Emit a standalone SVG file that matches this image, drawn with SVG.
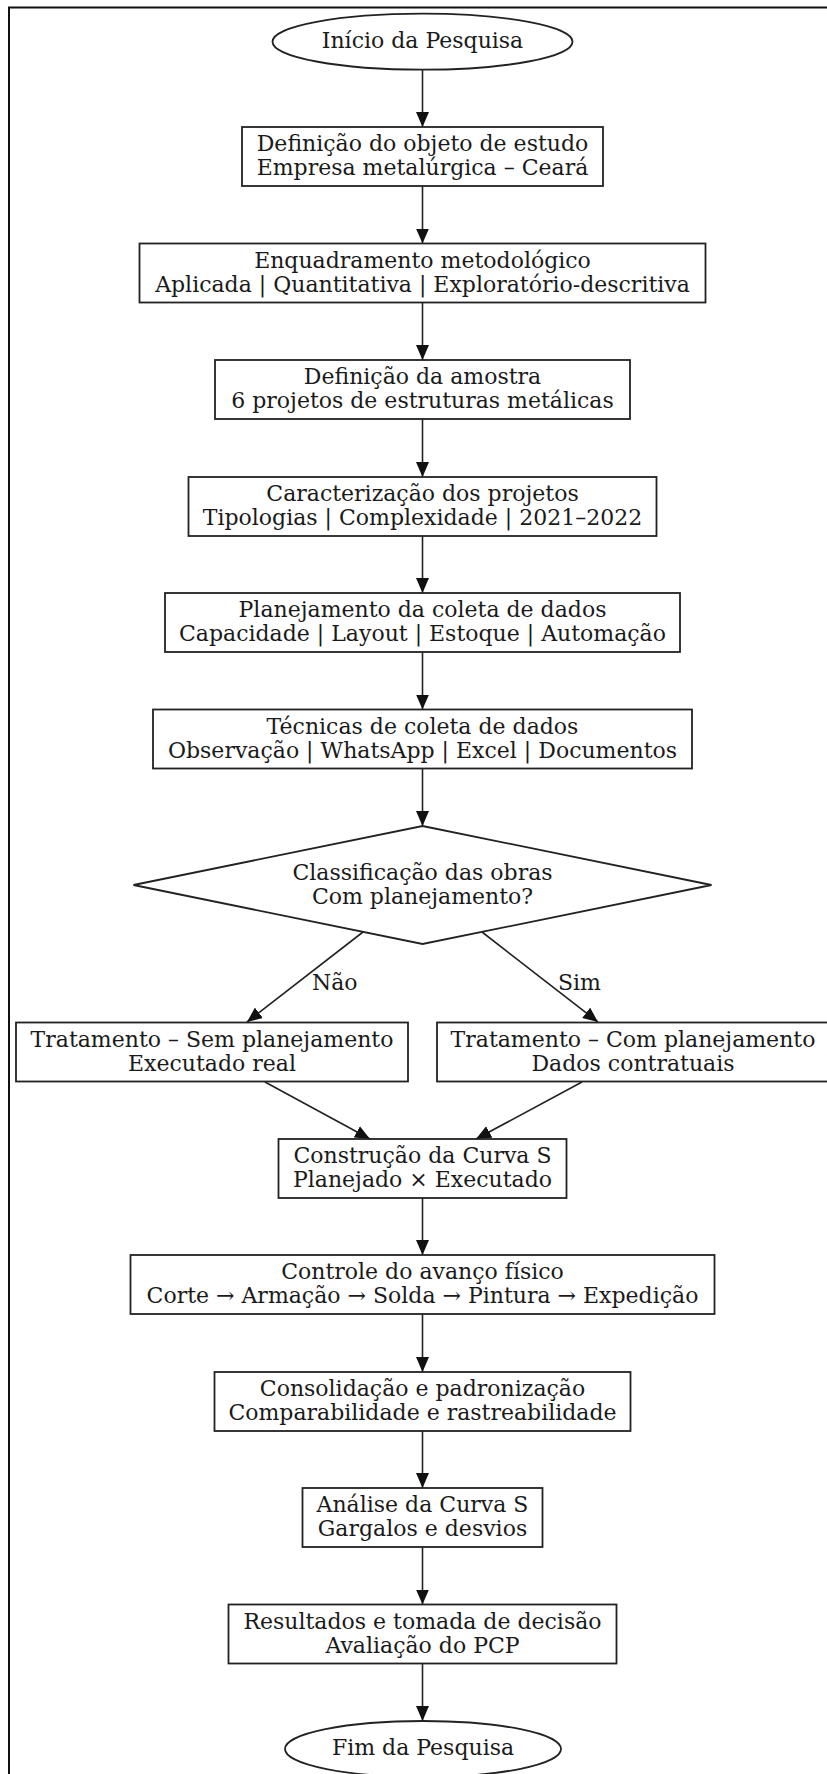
<svg xmlns="http://www.w3.org/2000/svg" width="827" height="1774" viewBox="0 0 827 1774">
  <style>
    .bg { fill: #ffffff; }
    .frame { fill: none; stroke: #111; stroke-width: 2; }
    .node { fill: #ffffff; stroke: #222; stroke-width: 1.8; }
    .edge { fill: none; stroke: #222; stroke-width: 1.6; }
    .lbl { font-family: "DejaVu Serif", "Liberation Serif", serif; font-size: 22px; fill: #1a1a1a; text-anchor: middle; }
    .elbl { font-family: "DejaVu Serif", "Liberation Serif", serif; font-size: 22px; fill: #1a1a1a; text-anchor: start; }
  </style>
  <defs>
    <marker id="arrow" markerUnits="userSpaceOnUse" markerWidth="15" markerHeight="13" refX="15" refY="6.5" orient="auto">
      <path d="M0,0 L15,6.5 L0,13 z" fill="#111"/>
    </marker>
  </defs>

  <rect class="bg" x="0" y="0" width="827" height="1774"/>
  <!-- outer border (continues past the right and bottom edges) -->
  <rect class="frame" x="9" y="7.5" width="830" height="1780"/>

  <!-- connectors -->
  <g id="edges">
    <line class="edge" x1="422.5" y1="69.7" x2="422.5" y2="127" marker-end="url(#arrow)"/>
    <line class="edge" x1="422.5" y1="186" x2="422.5" y2="243.5" marker-end="url(#arrow)"/>
    <line class="edge" x1="422.5" y1="302.5" x2="422.5" y2="360" marker-end="url(#arrow)"/>
    <line class="edge" x1="422.5" y1="419" x2="422.5" y2="477" marker-end="url(#arrow)"/>
    <line class="edge" x1="422.5" y1="536" x2="422.5" y2="593" marker-end="url(#arrow)"/>
    <line class="edge" x1="422.5" y1="652" x2="422.5" y2="709.5" marker-end="url(#arrow)"/>
    <line class="edge" x1="422.5" y1="768.5" x2="422.5" y2="826" marker-end="url(#arrow)"/>
    <line class="edge" x1="363" y1="932" x2="247" y2="1022" marker-end="url(#arrow)"/>
    <line class="edge" x1="482" y1="932" x2="598" y2="1022" marker-end="url(#arrow)"/>
    <line class="edge" x1="265" y1="1082" x2="370" y2="1139" marker-end="url(#arrow)"/>
    <line class="edge" x1="582" y1="1082" x2="476" y2="1139" marker-end="url(#arrow)"/>
    <line class="edge" x1="422.5" y1="1198" x2="422.5" y2="1255" marker-end="url(#arrow)"/>
    <line class="edge" x1="422.5" y1="1314" x2="422.5" y2="1372" marker-end="url(#arrow)"/>
    <line class="edge" x1="422.5" y1="1431" x2="422.5" y2="1488" marker-end="url(#arrow)"/>
    <line class="edge" x1="422.5" y1="1547" x2="422.5" y2="1604.5" marker-end="url(#arrow)"/>
    <line class="edge" x1="422.5" y1="1663.5" x2="422.5" y2="1721" marker-end="url(#arrow)"/>
    <text class="elbl" x="312" y="990">Não</text>
    <text class="elbl" x="558" y="990">Sim</text>
  </g>

  <g id="inicio">
    <ellipse class="node" cx="422.5" cy="41.7" rx="150" ry="28"/>
    <text class="lbl" x="422.5" y="47.5">Início da Pesquisa</text>
  </g>

  <g id="objeto">
    <rect class="node" x="242" y="127" width="361" height="59"/>
    <text class="lbl" x="422.5" y="151">Definição do objeto de estudo</text>
    <text class="lbl" x="422.5" y="175">Empresa metalúrgica – Ceará</text>
  </g>

  <g id="enquadramento">
    <rect class="node" x="139.5" y="243.5" width="566" height="59"/>
    <text class="lbl" x="422.5" y="267.5">Enquadramento metodológico</text>
    <text class="lbl" x="422.5" y="291.5">Aplicada | Quantitativa | Exploratório-descritiva</text>
  </g>

  <g id="amostra">
    <rect class="node" x="215" y="360" width="415" height="59"/>
    <text class="lbl" x="422.5" y="384">Definição da amostra</text>
    <text class="lbl" x="422.5" y="408">6 projetos de estruturas metálicas</text>
  </g>

  <g id="caracterizacao">
    <rect class="node" x="188.5" y="477" width="468" height="59"/>
    <text class="lbl" x="422.5" y="501">Caracterização dos projetos</text>
    <text class="lbl" x="422.5" y="525">Tipologias | Complexidade | 2021–2022</text>
  </g>

  <g id="planejamento">
    <rect class="node" x="165" y="593" width="515" height="59"/>
    <text class="lbl" x="422.5" y="617">Planejamento da coleta de dados</text>
    <text class="lbl" x="422.5" y="641">Capacidade | Layout | Estoque | Automação</text>
  </g>

  <g id="tecnicas">
    <rect class="node" x="153" y="709.5" width="539" height="59"/>
    <text class="lbl" x="422.5" y="733.5">Técnicas de coleta de dados</text>
    <text class="lbl" x="422.5" y="757.5">Observação | WhatsApp | Excel | Documentos</text>
  </g>

  <g id="classificacao">
    <polygon class="node" points="422.5,826 711.5,885 422.5,944 133.5,885"/>
    <text class="lbl" x="422.5" y="879.5">Classificação das obras</text>
    <text class="lbl" x="422.5" y="903.5">Com planejamento?</text>
  </g>

  <g id="sem-planejamento">
    <rect class="node" x="16" y="1022.5" width="392" height="59"/>
    <text class="lbl" x="212" y="1046.5">Tratamento – Sem planejamento</text>
    <text class="lbl" x="212" y="1070.5">Executado real</text>
  </g>

  <g id="com-planejamento">
    <rect class="node" x="437" y="1022.5" width="392" height="59"/>
    <text class="lbl" x="633" y="1046.5">Tratamento – Com planejamento</text>
    <text class="lbl" x="633" y="1070.5">Dados contratuais</text>
  </g>

  <g id="curva-s">
    <rect class="node" x="278.5" y="1139" width="288" height="59"/>
    <text class="lbl" x="422.5" y="1163">Construção da Curva S</text>
    <text class="lbl" x="422.5" y="1187">Planejado × Executado</text>
  </g>

  <g id="controle">
    <rect class="node" x="130.5" y="1255" width="584" height="59"/>
    <text class="lbl" x="422.5" y="1279">Controle do avanço físico</text>
    <text class="lbl" x="422.5" y="1303">Corte → Armação → Solda → Pintura → Expedição</text>
  </g>

  <g id="consolidacao">
    <rect class="node" x="214.5" y="1372" width="416" height="59"/>
    <text class="lbl" x="422.5" y="1396">Consolidação e padronização</text>
    <text class="lbl" x="422.5" y="1420">Comparabilidade e rastreabilidade</text>
  </g>

  <g id="analise">
    <rect class="node" x="302.5" y="1488" width="240" height="59"/>
    <text class="lbl" x="422.5" y="1512">Análise da Curva S</text>
    <text class="lbl" x="422.5" y="1536">Gargalos e desvios</text>
  </g>

  <g id="resultados">
    <rect class="node" x="228.5" y="1604.5" width="388" height="59"/>
    <text class="lbl" x="422.5" y="1628.5">Resultados e tomada de decisão</text>
    <text class="lbl" x="422.5" y="1652.5">Avaliação do PCP</text>
  </g>

  <g id="fim">
    <ellipse class="node" cx="423" cy="1749" rx="138" ry="28"/>
    <text class="lbl" x="423" y="1755">Fim da Pesquisa</text>
  </g>
</svg>
